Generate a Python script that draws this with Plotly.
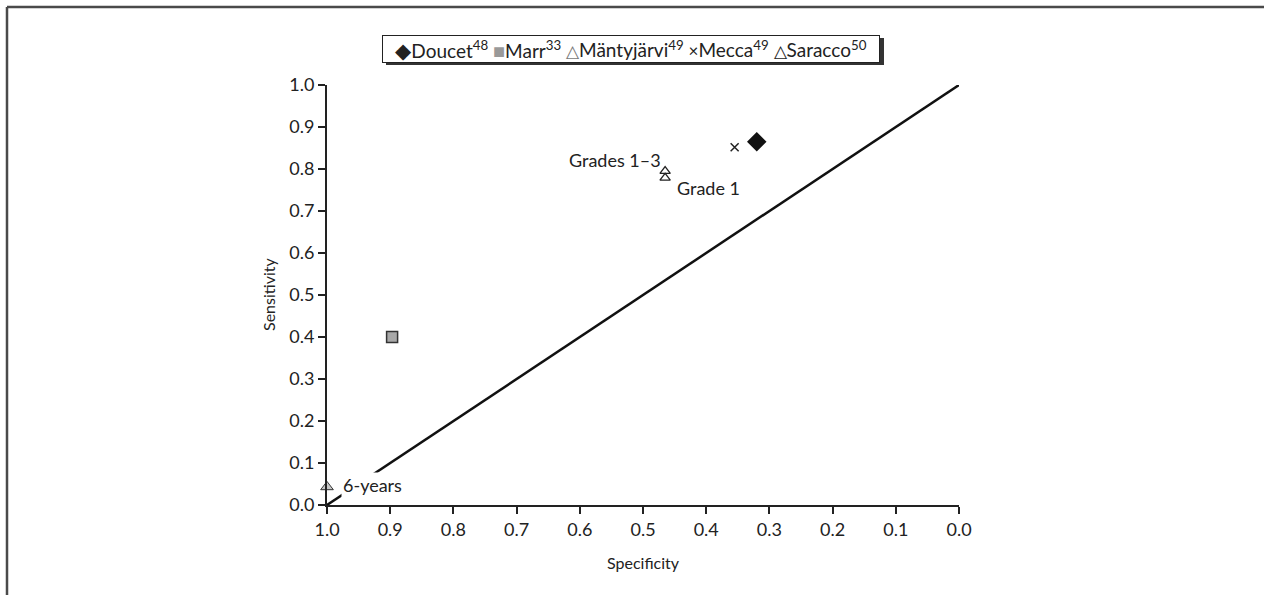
import plotly.graph_objects as go

# Study points (specificity, sensitivity)
doucet_spec = [0.32]
doucet_sens = [0.865]
marr_spec = [0.897]
marr_sens = [0.40]
mantyjarvi_spec = [1.0]
mantyjarvi_sens = [0.043]
mecca_spec = [0.355]
mecca_sens = [0.852]
saracco_spec = [0.465, 0.465]
saracco_sens = [0.795, 0.779]

# Chance line
chance_spec = [1.0, 0.0]
chance_sens = [0.0, 1.0]

tick_vals = [0.0, 0.1, 0.2, 0.3, 0.4, 0.5, 0.6, 0.7, 0.8, 0.9, 1.0]
tick_text = [f"{v:.1f}" for v in tick_vals]

FONT = "Lato"
W, H = 1264, 595
L, R, T, B = 327, 305, 85, 90
pw, ph = W - L - R, H - T - B


def px(x):
    return (x - L) / pw


def py(y):
    return (H - B - y) / ph


fig = go.Figure()

fig.add_trace(go.Scatter(x=chance_spec, y=chance_sens, mode="lines",
                         line=dict(color="#111", width=2.5), showlegend=False,
                         hoverinfo="skip"))

fig.add_trace(go.Scatter(x=doucet_spec, y=doucet_sens, mode="markers", name="Doucet",
                         marker=dict(symbol="diamond", size=15, color="#111")))
fig.add_trace(go.Scatter(x=marr_spec, y=marr_sens, mode="markers", name="Marr",
                         marker=dict(symbol="square", size=11, color="#a8a8a8",
                                     line=dict(color="#333", width=1.5))))
fig.add_trace(go.Scatter(x=mantyjarvi_spec, y=mantyjarvi_sens, mode="markers",
                         name="Mäntyjärvi", cliponaxis=False,
                         marker=dict(symbol="triangle-up", size=11, color="#c8c8c8",
                                     line=dict(color="#333", width=1))))
fig.add_trace(go.Scatter(x=mecca_spec, y=mecca_sens, mode="markers", name="Mecca",
                         marker=dict(symbol="x-thin", size=8,
                                     line=dict(color="#222", width=1.5))))
fig.add_trace(go.Scatter(x=saracco_spec, y=saracco_sens, mode="markers", name="Saracco",
                         marker=dict(symbol="triangle-up", size=9, color="white",
                                     line=dict(color="#222", width=1.3))))

lbl = dict(family=FONT, size=18, color="#222")

# Point labels
fig.add_annotation(x=saracco_spec[0], y=saracco_sens[0], text="Grades 1–3",
                   showarrow=False, xanchor="right", yanchor="middle",
                   xshift=-2, yshift=11, font=lbl)
fig.add_annotation(x=saracco_spec[1], y=saracco_sens[1], text="Grade 1",
                   showarrow=False, xanchor="left", yanchor="middle",
                   xshift=10, yshift=-10, font=lbl)
fig.add_annotation(x=mantyjarvi_spec[0], y=mantyjarvi_sens[0], text="6-years",
                   showarrow=False, xanchor="left", yanchor="middle",
                   xshift=14, yshift=2, font=lbl, bgcolor="white", borderpad=1)

# Legend box (fixed size) with a drop shadow behind it
leg_l, leg_r, leg_t, leg_b = 382, 880, 35, 63
fig.add_shape(type="rect", xref="paper", yref="paper",
              x0=px(leg_l + 4), x1=px(leg_r + 4), y0=py(leg_t + 3), y1=py(leg_b + 2),
              line=dict(width=0), fillcolor="#333")

legend_text = (
    '<span style="font-size:21px">◆</span>Doucet<sup>48</sup> '
    + '<span style="font-size:20px;color:#999">■</span>Marr<sup>33</sup> '
    + '<span style="font-size:17px;color:#777">△</span>Mäntyjärvi<sup>49</sup> '
    + '<span style="font-size:17px">×</span>Mecca<sup>49</sup> '
    + '<span style="font-size:17px">△</span>Saracco<sup>50</sup>'
)
fig.add_annotation(xref="paper", yref="paper",
                   x=px((leg_l + leg_r) / 2), y=py((leg_t + leg_b) / 2),
                   text=legend_text, showarrow=False,
                   xanchor="center", yanchor="middle", align="center",
                   width=leg_r - leg_l - 4, height=leg_b - leg_t - 4,
                   font=dict(family=FONT, size=19, color="#222"),
                   bgcolor="white", bordercolor="#222", borderwidth=1, borderpad=1)

# Axis titles
fig.add_annotation(xref="paper", yref="paper", x=0.5, y=py(562), text="Specificity",
                   showarrow=False, xanchor="center", yanchor="middle",
                   font=dict(family=FONT, size=16, color="#222"))
fig.add_annotation(xref="paper", yref="paper", x=px(268), y=0.5, text="Sensitivity",
                   showarrow=False, xanchor="center", yanchor="middle", textangle=-90,
                   font=dict(family=FONT, size=16, color="#222"))

# Outer frame edges (top and left)
fig.add_shape(type="line", xref="paper", yref="paper", x0=px(7), x1=px(W),
              y0=py(7), y1=py(7), line=dict(color="#4a4a4a", width=2.5))
fig.add_shape(type="line", xref="paper", yref="paper", x0=px(7), x1=px(7),
              y0=py(7), y1=py(H), line=dict(color="#4a4a4a", width=2.5))

axis_common = dict(
    showgrid=False, zeroline=False, showline=True,
    linecolor="#222", linewidth=2, ticks="outside", ticklen=7, tickwidth=2,
    tickcolor="#222", tickvals=tick_vals, ticktext=tick_text,
    tickfont=dict(family=FONT, size=18, color="#222"), mirror=False,
)

fig.update_xaxes(**axis_common, range=[1.0, 0.0])
fig.update_yaxes(**axis_common, range=[0.0, 1.0])

fig.update_layout(
    width=W, height=H,
    margin=dict(l=L, r=R, t=T, b=B),
    paper_bgcolor="white", plot_bgcolor="white",
    showlegend=False,
    font=dict(family=FONT, color="#222"),
)

fig.write_html("out.html")
